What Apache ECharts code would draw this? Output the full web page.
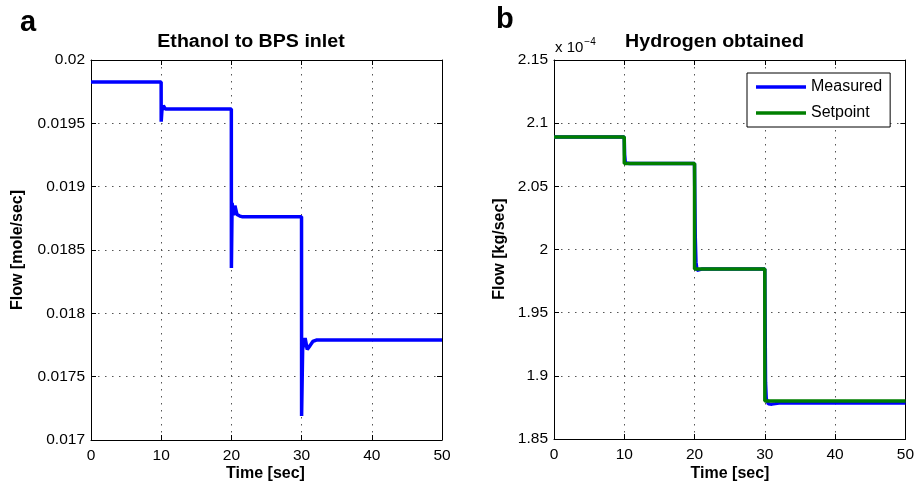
<!DOCTYPE html>
<html>
<head>
<meta charset="utf-8">
<script src="https://cdn.jsdelivr.net/npm/echarts@6/dist/echarts.min.js"></script>
<style>
html,body{margin:0;padding:0;background:#fff;}
#chart{width:917px;height:481px;}
</style>
</head>
<body>
<div id="chart"></div>
<script>
// Panel a: Ethanol to BPS inlet
const tA = [0, 9.99, 10.0, 10.1, 10.3, 10.6, 19.99, 20.0, 20.1, 20.3, 20.5, 20.8, 21.2, 21.5, 29.99, 30.0, 30.15, 30.5, 30.8, 31.2, 31.6, 32.1, 50];
const flowA = [0.019826, 0.019826, 0.019513, 0.019600, 0.019640, 0.019613, 0.019613, 0.018358, 0.018871, 0.018775, 0.018850, 0.018780, 0.018768, 0.018763, 0.018763, 0.017189, 0.017720, 0.017805, 0.017715, 0.017745, 0.017778, 0.017789, 0.017789];
// Panel b: Hydrogen obtained (units of 1e-4 kg/sec)
const tB = [0, 9.99, 10.05, 10.15, 10.4, 10.8, 19.99, 20.1, 20.2, 20.35, 20.6, 21.0, 29.99, 30.1, 30.2, 30.5, 31.0, 31.5, 32.0, 50];
const measuredB = [2.089, 2.089, 2.075, 2.0685, 2.0690, 2.068, 2.068, 2.010, 1.990, 1.9835, 1.9822, 1.9845, 1.9845, 1.895, 1.882, 1.8778, 1.8776, 1.8780, 1.8785, 1.8785];
const tSet = [0, 10, 10, 20, 20, 30, 30, 50];
const setpointB = [2.089, 2.089, 2.068, 2.068, 1.9845, 1.9845, 1.880, 1.880];
// Axis ticks
const xTicks = [0, 10, 20, 30, 40, 50];
const yTicksA = [0.017, 0.0175, 0.018, 0.0185, 0.019, 0.0195, 0.02];
const yTicksB = [1.85, 1.9, 1.95, 2, 2.05, 2.1, 2.15];

const zip = (xs, ys) => xs.map((x, i) => [x, ys[i]]);
const FONT = 'Liberation Sans, Arial, Helvetica, sans-serif';
const fmt = v => String(parseFloat(v.toFixed(5)));

const grids = [
  {left: 91, top: 60, width: 351, height: 380},
  {left: 554, top: 60, width: 352, height: 379}
];

function xAxes(gi) {
  const base = {
    type: 'value', gridIndex: gi, min: xTicks[0], max: xTicks[xTicks.length - 1],
    interval: xTicks[1] - xTicks[0],
    axisLine: {show: true, onZero: false, lineStyle: {color: '#000', width: 1}},
    axisTick: {show: true, inside: true, length: 5, lineStyle: {color: '#000'}}
  };
  return [
    Object.assign({}, base, {
      position: 'bottom',
      axisLabel: {show: true, color: '#000', fontSize: 15.5, fontFamily: FONT, margin: 8},
      splitLine: {show: true, lineStyle: {color: '#555', type: [1.5, 5.5], width: 1}}
    }),
    Object.assign({}, base, {
      position: 'top',
      axisLabel: {show: false}, splitLine: {show: false}
    })
  ];
}
function yAxes(gi, ticks) {
  const base = {
    type: 'value', gridIndex: gi, min: ticks[0], max: ticks[ticks.length - 1],
    interval: +(ticks[1] - ticks[0]).toFixed(6),
    axisLine: {show: true, onZero: false, lineStyle: {color: '#000', width: 1}},
    axisTick: {show: true, inside: true, length: 5, lineStyle: {color: '#000'}}
  };
  return [
    Object.assign({}, base, {
      position: 'left',
      axisLabel: {show: true, color: '#000', fontSize: 15.5, fontFamily: FONT, margin: 6, formatter: fmt},
      splitLine: {show: true, lineStyle: {color: '#555', type: [1.5, 5.5], width: 1}}
    }),
    Object.assign({}, base, {
      position: 'right',
      axisLabel: {show: false}, splitLine: {show: false}
    })
  ];
}

const LINE_ICON = 'path://M0,0 L50,0 L50,3.5 L0,3.5 Z';
const chart = echarts.init(document.getElementById('chart'), null, {renderer: 'canvas'});
const option = {
  backgroundColor: '#fff',
  animation: false,
  grid: grids,
  xAxis: [].concat(xAxes(0), xAxes(1)),
  yAxis: [].concat(yAxes(0, yTicksA), yAxes(1, yTicksB)),
  legend: {
    show: true, orient: 'vertical', left: 747, top: 73,
    padding: [6, 8, 6, 9], itemWidth: 50, itemHeight: 14, itemGap: 10,
    backgroundColor: '#fff', borderColor: '#000', borderWidth: 1,
    textStyle: {fontSize: 16, fontFamily: FONT, color: '#000'},
    data: [
      {name: 'Measured', icon: LINE_ICON, itemStyle: {color: '#0000ff', borderWidth: 0}},
      {name: 'Setpoint', icon: LINE_ICON, itemStyle: {color: '#007f00', borderWidth: 0}}
    ]
  },
  series: [
    {type: 'line', name: 'Ethanol', xAxisIndex: 0, yAxisIndex: 0, data: zip(tA, flowA),
     symbol: 'none', showSymbol: false, lineStyle: {color: '#0000ff', width: 3.5}, itemStyle: {color: '#0000ff'}},
    {type: 'line', name: 'Measured', xAxisIndex: 2, yAxisIndex: 2, data: zip(tB, measuredB),
     symbol: 'none', showSymbol: false, lineStyle: {color: '#0000ff', width: 3.5}, itemStyle: {color: '#0000ff'}},
    {type: 'line', name: 'Setpoint', xAxisIndex: 2, yAxisIndex: 2, data: zip(tSet, setpointB),
     symbol: 'none', showSymbol: false, lineStyle: {color: '#007f00', width: 3.5}, itemStyle: {color: '#007f00'}}
  ],
  graphic: [
    {type: 'text', left: 20, top: 8, style: {text: 'a', font: 'bold 29px ' + FONT, fill: '#000'}},
    {type: 'text', left: 496, top: 5, style: {text: 'b', font: 'bold 29px ' + FONT, fill: '#000'}},
    {type: 'text', x: 251, y: 42, scaleX: 1.09, style: {text: 'Ethanol to BPS inlet', font: 'bold 18px ' + FONT, fill: '#000', align: 'center', verticalAlign: 'middle'}},
    {type: 'text', x: 714.5, y: 42, scaleX: 1.09, style: {text: 'Hydrogen obtained', font: 'bold 18px ' + FONT, fill: '#000', align: 'center', verticalAlign: 'middle'}},
    {type: 'text', x: 555, y: 46, style: {text: '{b|x 10}{s|\u22124}', rich: {b: {fontSize: 15, fontFamily: FONT, fill: '#000', verticalAlign: 'bottom'}, s: {fontSize: 10, fontFamily: FONT, fill: '#000', padding: [0, 0, 8, 1]}}, verticalAlign: 'middle'}},
    {type: 'text', x: 265.5, y: 474, style: {text: 'Time [sec]', font: 'bold 16px ' + FONT, fill: '#000', align: 'center', verticalAlign: 'middle'}},
    {type: 'text', x: 730, y: 474, style: {text: 'Time [sec]', font: 'bold 16px ' + FONT, fill: '#000', align: 'center', verticalAlign: 'middle'}},
    {type: 'text', x: 18, y: 250, rotation: Math.PI / 2, style: {text: 'Flow [mole/sec]', font: 'bold 16px ' + FONT, fill: '#000', align: 'center', verticalAlign: 'middle'}},
    {type: 'text', x: 500, y: 249, rotation: Math.PI / 2, style: {text: 'Flow [kg/sec]', font: 'bold 16px ' + FONT, fill: '#000', align: 'center', verticalAlign: 'middle'}}
  ]
};
chart.setOption(option);
</script>
</body>
</html>
